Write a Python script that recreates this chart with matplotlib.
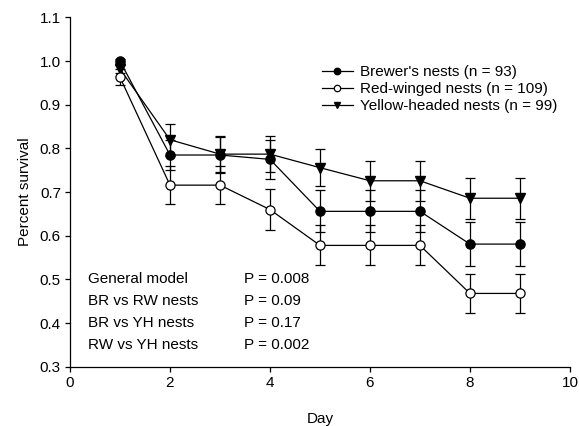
import matplotlib
matplotlib.use("Agg")
import matplotlib.pyplot as plt

plt.rcParams['font.family'] = ['Liberation Sans', 'DejaVu Sans']

days = [1, 2, 3, 4, 5, 6, 7, 8, 9]
brewers = [1.0, 0.785, 0.785, 0.775, 0.656, 0.656, 0.656, 0.581, 0.581]
brewers_err = [0.005, 0.035, 0.041, 0.045, 0.048, 0.048, 0.048, 0.05, 0.05]
redwing = [0.963, 0.716, 0.716, 0.66, 0.578, 0.578, 0.578, 0.468, 0.468]
redwing_err = [0.018, 0.043, 0.043, 0.047, 0.046, 0.046, 0.046, 0.045, 0.045]
yellow = [0.982, 0.82, 0.787, 0.787, 0.756, 0.726, 0.726, 0.686, 0.686]
yellow_err = [0.01, 0.037, 0.042, 0.042, 0.043, 0.046, 0.046, 0.047, 0.047]

labels = ["Brewer's nests (n = 93)", "Red-winged nests (n = 109)", "Yellow-headed nests (n = 99)"]
stats_names = ["General model", "BR vs RW nests", "BR vs YH nests", "RW vs YH nests"]
stats_p = ["P = 0.008", "P = 0.09", "P = 0.17", "P = 0.002"]

FS = 11

fig = plt.figure(figsize=(5.8, 4.26), dpi=100)
ax = fig.add_axes([0.1207, 0.139, 0.862, 0.82])

common = dict(color='black', lw=0.9, elinewidth=0.9, capsize=3.6, capthick=0.9, markersize=6.6)
ax.errorbar(days, yellow, yerr=yellow_err, marker='v', mfc='black', mec='black', label=labels[2], zorder=3, **common)
ax.errorbar(days, brewers, yerr=brewers_err, marker='o', mfc='black', mec='black', label=labels[0], zorder=4, **common)
ax.errorbar(days, redwing, yerr=redwing_err, marker='o', mfc='white', mec='black', mew=0.9, label=labels[1], zorder=5, **common)

ax.set_xlim(0, 10)
ax.set_ylim(0.3, 1.1)
ax.set_xticks([0, 2, 4, 6, 8, 10])
ax.set_yticks([0.3, 0.4, 0.5, 0.6, 0.7, 0.8, 0.9, 1.0, 1.1])
ax.set_yticklabels(['0.3', '0.4', '0.5', '0.6', '0.7', '0.8', '0.9', '1.0', '1.1'])
ax.spines['top'].set_visible(False)
ax.spines['right'].set_visible(False)
ax.tick_params(direction='out', length=3.5, width=0.9, labelsize=FS, pad=3)
for s in ['left', 'bottom']:
    ax.spines[s].set_linewidth(0.9)
ax.set_xlabel('Day', fontsize=FS, labelpad=16)
ax.set_ylabel('Percent survival', fontsize=FS, labelpad=6)

handles, labs = ax.get_legend_handles_labels()
order = [1, 2, 0]
handles = [h[0] for h in handles]
leg = ax.legend([handles[i] for i in order], [labs[i] for i in order], loc='upper left',
                bbox_to_anchor=(0.492, 0.881), frameon=False, fontsize=FS, handlelength=2.0,
                handletextpad=0.5, labelspacing=0.2, borderaxespad=0, markerscale=0.7)

ys = [0.5, 0.45, 0.4, 0.35]
for name, p, y in zip(stats_names, stats_p, ys):
    ax.text(0.36, y, name, fontsize=FS, va='center', ha='left')
    ax.text(3.48, y, p, fontsize=FS, va='center', ha='left')

fig.savefig('out.png', dpi=100)
